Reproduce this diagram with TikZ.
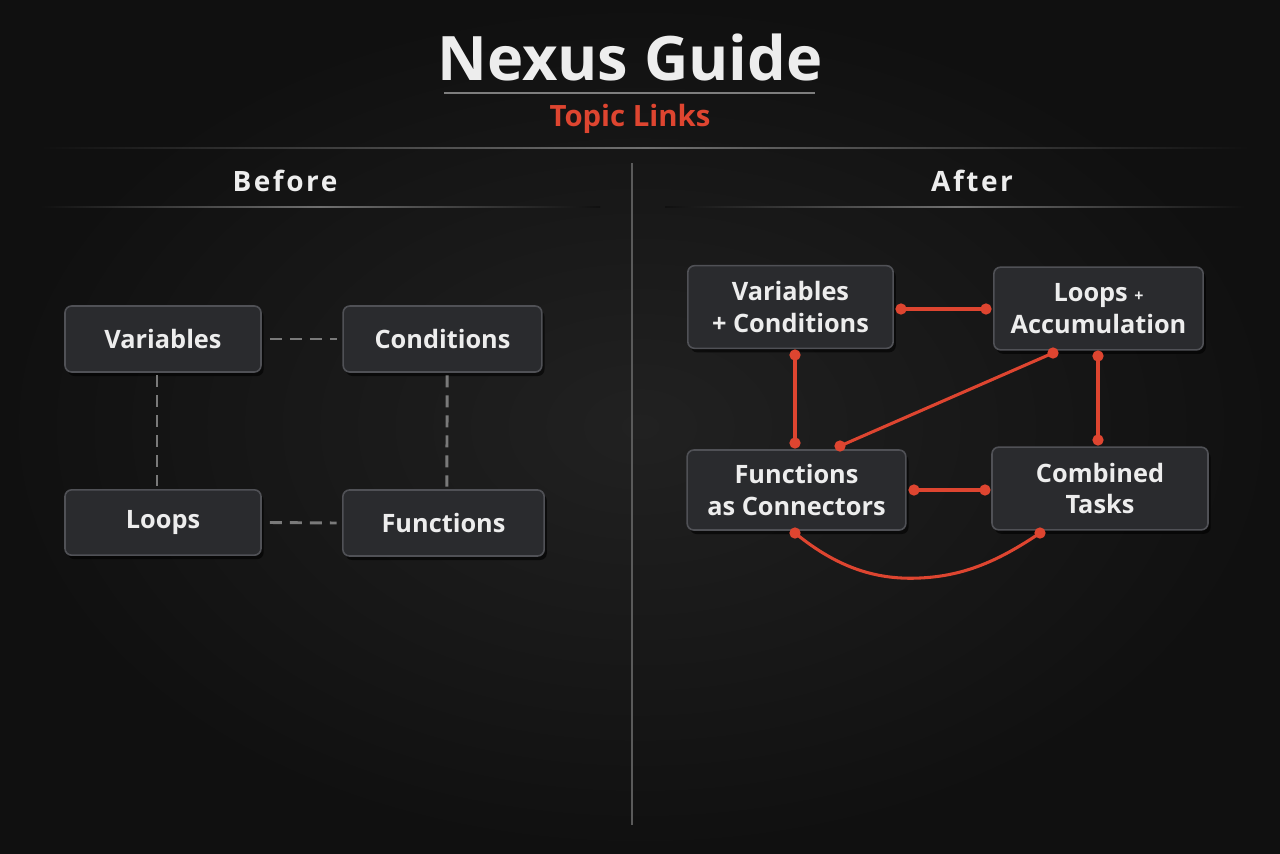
\documentclass[tikz,border=0pt]{standalone}
\usepackage{fontspec}
\setmainfont{Open Sans}
\usetikzlibrary{shadows,calc}
\definecolor{bgout}{HTML}{101010}
\definecolor{bgin}{HTML}{212121}
\definecolor{boxfill}{HTML}{2A2B2E}
\definecolor{boxline}{HTML}{505156}
\definecolor{txt}{HTML}{EDEDED}
\definecolor{accent}{HTML}{DE4530}
\definecolor{rule}{HTML}{707070}
\definecolor{dash}{HTML}{7A7A7A}
\tikzset{
  topic/.style={draw=boxline, line width=1.2pt, fill=boxfill, rounded corners=5pt,
    text=txt, align=center, font=\fontsize{19pt}{23.5pt}\selectfont\bfseries,
    inner sep=0pt, drop shadow={shadow xshift=2pt, shadow yshift=-3pt, opacity=0.6, fill=black}},
  weak/.style={draw=dash, line width=2.2pt, dash pattern=on 9pt off 6pt},
  link/.style={draw=accent, line width=2.3pt},
  knob/.style={circle, fill=accent, inner sep=0pt, minimum size=8.5pt},
  heading/.style={text=txt, font=\fontsize{21pt}{25pt}\selectfont\bfseries},
  fade/.style={left color=bgout, right color=bgout, middle color=rule},
}
\begin{document}
\begin{tikzpicture}[x=0.75pt,y=-0.75pt]
\shade[inner color=bgin, outer color=bgout] (0,0) rectangle (1280,853);
\useasboundingbox (0,0) rectangle (1280,853);
% title
\node[font=\fontsize{46pt}{52pt}\selectfont\bfseries, text=txt] (title) at (630,57) {Nexus Guide};
\draw[rule!90!white, line width=1pt] (444,93) coordinate (tl) -- (815,93) coordinate (tr);
\node[font=\fontsize{22pt}{26pt}\selectfont\bfseries, text=accent] (sub) at (630,119) {Topic Links};
% rules
\shade[fade] (40,147.2) coordinate (hl) rectangle (1250,148.8) coordinate (hr);
\draw[rule!80!black, line width=0.9pt] (632,163) coordinate (vt) -- (632,825) coordinate (vb);
\shade[fade] (40,206.2) coordinate (ll) rectangle (600,207.8) coordinate (lr);
\shade[fade] (665,206.2) coordinate (rl) rectangle (1245,207.8) coordinate (rr);
\node[heading] (before) at (285,181) {\addfontfeature{LetterSpace=9}Before};
\node[heading] (after) at (972,181) {\addfontfeature{LetterSpace=9}After};
% before
\node[topic, minimum width=147pt, minimum height=49.5pt] (var) at (163,339) {Variables};
\node[topic, minimum width=149pt, minimum height=49.5pt] (cond) at (442.5,339) {Conditions};
\node[topic, minimum width=147pt, minimum height=49pt] (loop) at (163,522.5) {Loops};
\node[topic, minimum width=151pt, minimum height=49.5pt] (func) at (443.5,523) {Functions};
\draw[weak] ([xshift=6pt]var.east) -- ([xshift=-4pt]cond.west);
\draw[weak] ([xshift=-4.5pt,yshift=-2pt]var.south) -- ([xshift=-4.5pt,yshift=2pt]loop.north);
\draw[weak] ([xshift=3.5pt,yshift=-2pt]cond.south) -- ([xshift=2.5pt,yshift=2pt]func.north);
\draw[weak] ([xshift=6pt]loop.east) -- ([xshift=-4pt]func.west);
% after
\node[topic, minimum width=154pt, minimum height=62pt] (vc) at (790.5,307) {Variables\\+ Conditions};
\node[topic, minimum width=157pt, minimum height=62pt] (la) at (1098.5,308.5) {Loops {\fontsize{12pt}{14pt}\selectfont +}\\Accumulation};
\node[topic, minimum width=164pt, minimum height=60pt] (fc) at (796.5,490) {Functions\\as Connectors};
\node[topic, minimum width=162pt, minimum height=62pt] (ct) at (1100,488.5) {Combined\\Tasks};
% link endpoints
\node[knob] (k1) at (901,309) {};
\node[knob] (k2) at (986,309) {};
\node[knob] (k3) at (795,355) {};
\node[knob] (k4) at (795,443) {};
\node[knob] (k5) at (1053,353) {};
\node[knob] (k6) at (840,446) {};
\node[knob] (k7) at (1098,356) {};
\node[knob] (k8) at (1098,440) {};
\node[knob] (k9) at (914,490) {};
\node[knob] (k10) at (985,490) {};
\node[knob] (k11) at (795,533) {};
\node[knob] (k12) at (1040,533) {};
\draw[link] (k1.center) -- (k2.center);
\draw[link] (k3.center) -- (k4.center);
\draw[link] (k5.center) -- (k6.center);
\draw[link] (k7.center) -- (k8.center);
\draw[link] (k9.center) -- (k10.center);
\draw[link] (k11.center) .. controls (840,570) and (880,580) .. (920,578) .. controls (965,576) and (1000,560) .. (k12.center);
\end{tikzpicture}
\end{document}
